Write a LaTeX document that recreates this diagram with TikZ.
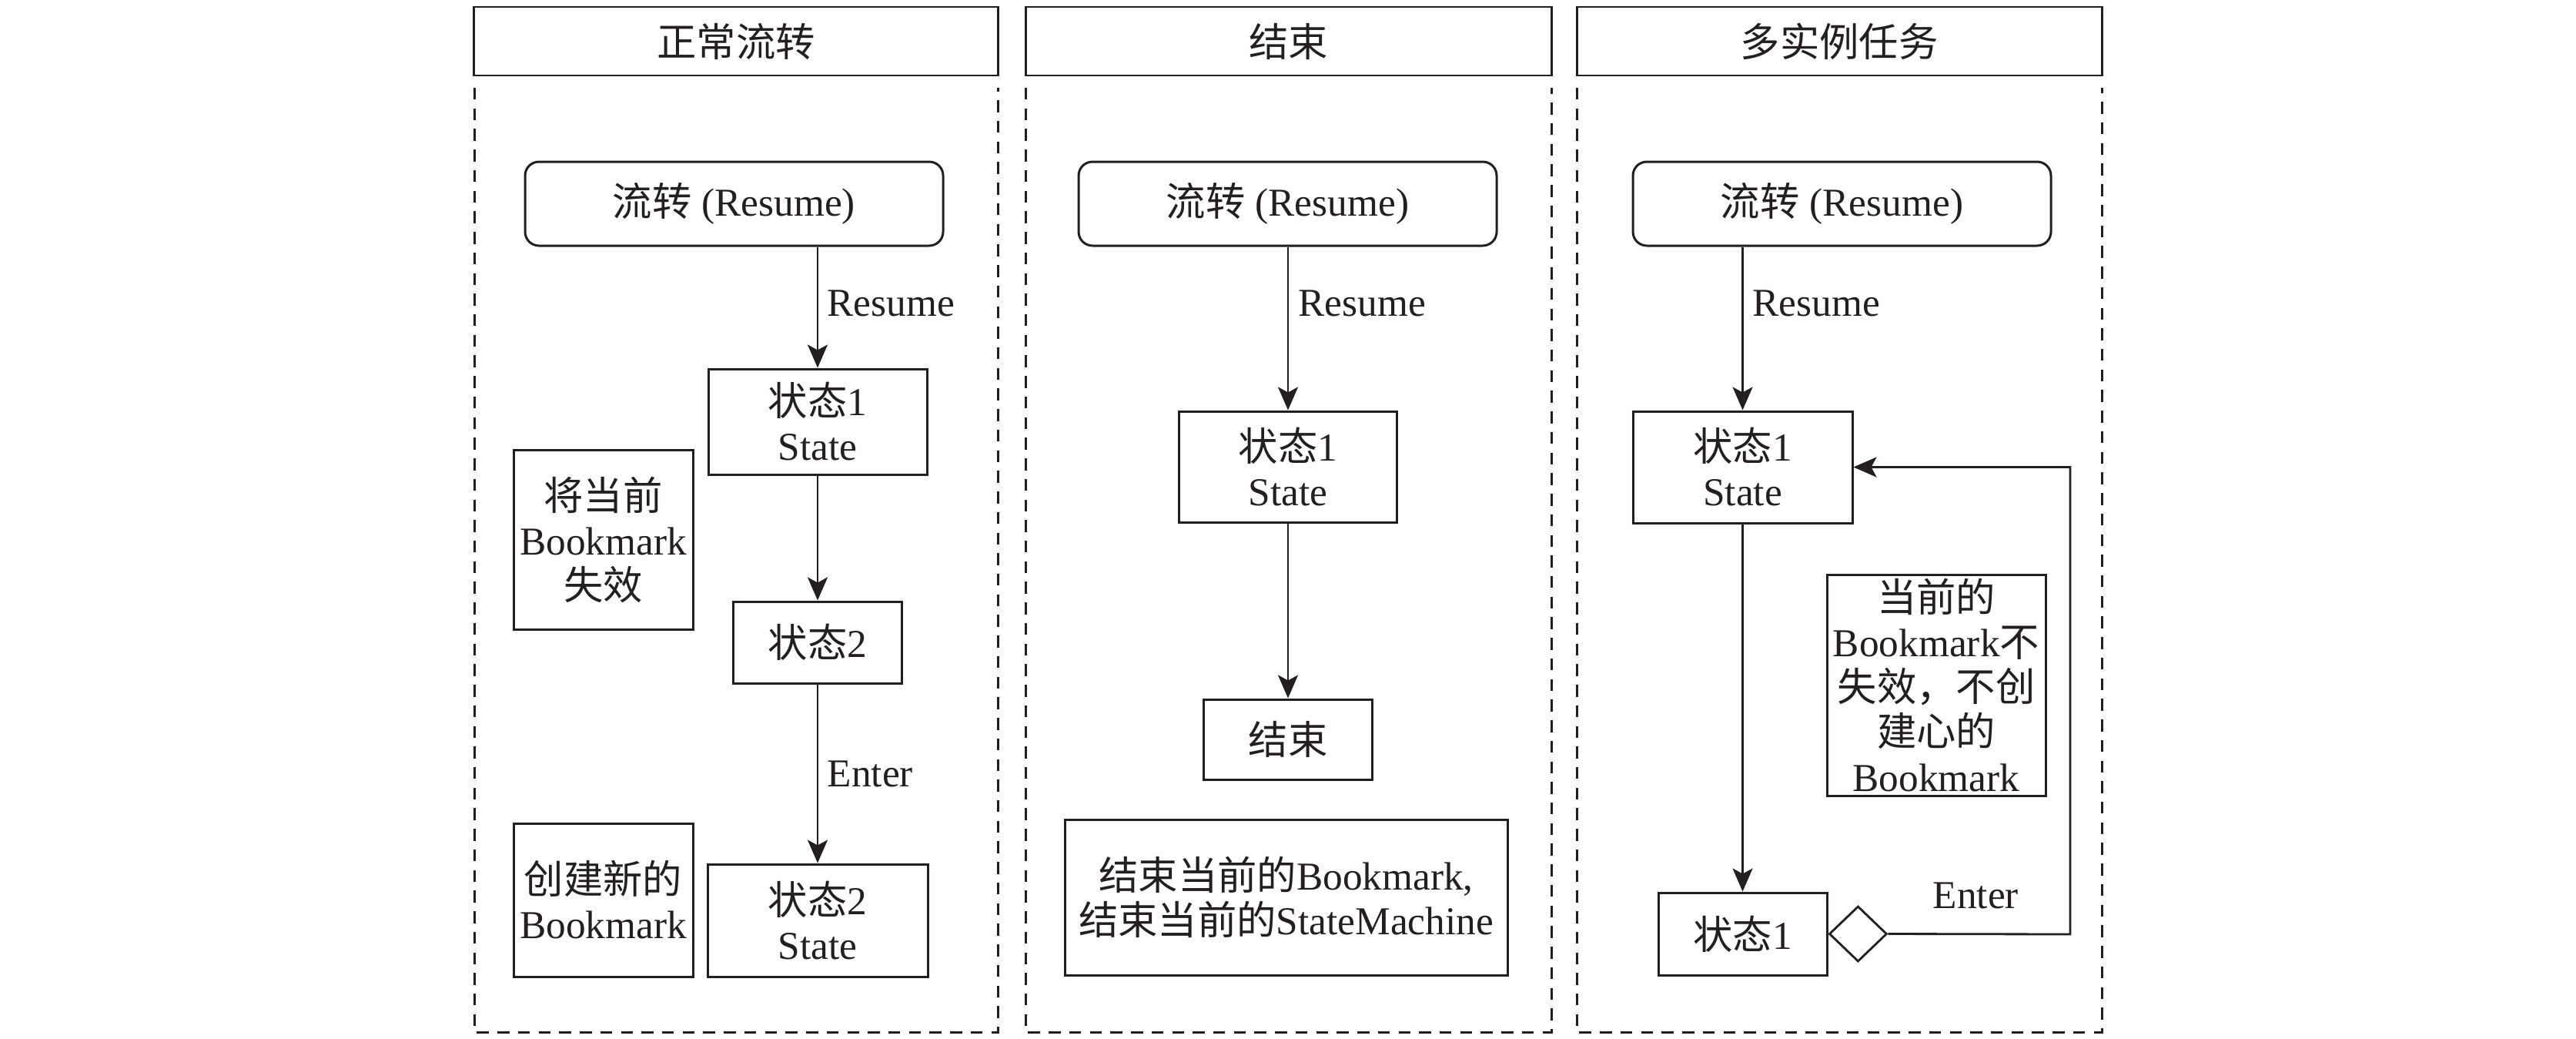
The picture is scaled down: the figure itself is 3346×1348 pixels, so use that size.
\documentclass[tikz,border=0pt]{standalone}
\usepackage{fontspec}
\setmainfont{Liberation Serif}
\newfontfamily\cjk{Noto Sans CJK SC}
\newcommand\zh[1]{{\cjk #1}}
\usetikzlibrary{arrows.meta,shapes.geometric}
\definecolor{ink}{HTML}{231F20}
\begin{document}
\begin{tikzpicture}[x=0.01cm,y=-0.01cm,
  every node/.style={font=\fontsize{14.6}{16.5}\selectfont, text=ink, inner sep=0pt},
  sz/.style 2 args={minimum width=#1*0.01cm, minimum height=#2*0.01cm},
  box/.style={draw=ink, line width=0.85pt, align=center},
  rbox/.style={box, rounded corners=0.18cm},
  lbl/.style={anchor=west},
  arr/.style={draw=ink, line width=0.8pt, -{Stealth[length=0.3cm,width=0.26cm,inset=0.07cm]}},
  dashline/.style={draw=ink, line width=0.85pt, dash pattern=on 4.4pt off 3.2pt},
  dia/.style={diamond, draw=ink, line width=0.8pt, fill=white, sz={75}{72}, inner sep=0pt, aspect=1},
]
\useasboundingbox (0,0) rectangle (3346,1348);

% ---------- panel frames ----------
\node[box, sz={681}{89}] (t1) at (956,53.5) {\zh{正常流转}};
\node[box, sz={683}{89}] (t2) at (1673.5,53.5) {\zh{结束}};
\node[box, sz={682}{89}] (t3) at (2389,53.5) {\zh{多实例任务}};
\draw[dashline] (616,114) -- (616,1340) -- (1296,1340) -- (1296,114);
\draw[dashline] (1332,114) -- (1332,1340) -- (2015,1340) -- (2015,114);
\draw[dashline] (2048,114) -- (2048,1340) -- (2730,1340) -- (2730,114);

% ---------- panel 1 ----------
\node[rbox, sz={543}{109}] (a0) at (953.5,264.5) {\zh{流转} (Resume)};
\node[box, sz={284}{137}] (a1) at (1062,547.5) {\zh{状态}1\\State};
\node[box, sz={233}{233}] (an1) at (783.5,700.5) {\zh{将当前}\\Bookmark\\\zh{失效}};
\node[box, sz={219}{106}] (a2) at (1062,834) {\zh{状态}2};
\node[box, sz={233}{199}] (an2) at (783.5,1168.5) {\zh{创建新的}\\Bookmark};
\node[box, sz={286}{146}] (a3) at (1062,1195) {\zh{状态}2\\State};
\draw[arr] (a1.north |- a0.south) -- (a1.north);
\draw[arr] (a1.south) -- (a2.north);
\draw[arr] (a2.south) -- (a3.north);
\node[lbl] (la1) at (1074,394) {Resume};
\node[lbl] (la2) at (1074,1005) {Enter};

% ---------- panel 2 ----------
\node[rbox, sz={543}{109}] (b0) at (1672.5,264.5) {\zh{流转} (Resume)};
\node[box, sz={283}{144}] (b1) at (1673,606) {\zh{状态}1\\State};
\node[box, sz={219}{104}] (b2) at (1673,960) {\zh{结束}};
\node[box, sz={575}{202}] (bn) at (1670.5,1165) {\zh{结束当前的}Bookmark,\\\zh{结束当前的}StateMachine};
\draw[arr] (b1.north |- b0.south) -- (b1.north);
\draw[arr] (b1.south) -- (b2.north);
\node[lbl] (lb1) at (1686,394) {Resume};

% ---------- panel 3 ----------
\node[rbox, sz={543}{109}] (c0) at (2392.5,264.5) {\zh{流转} (Resume)};
\node[box, sz={285}{145}] (c1) at (2263.5,606.5) {\zh{状态}1\\State};
\node[box, sz={219}{107}] (c2) at (2263.5,1212.5) {\zh{状态}1};
\node[box, sz={284}{287}] (cn) at (2515,889.5) {\zh{当前的}\\Bookmark\zh{不}\\\zh{失效，不创}\\\zh{建心的}\\Bookmark};
\node[dia, anchor=west] (cd) at (c2.east) {};
\coordinate (cr1) at (2689,1213);
\coordinate (cr2) at (2689,606.5);
\draw[arr] (c1.north |- c0.south) -- (c1.north);
\draw[arr] (c1.south) -- (c2.north);
\draw[arr] (cd.east) -- (cr1) -- (cr2) -- (c1.east);
\node[lbl] (lc1) at (2276,394) {Resume};
\node[lbl] (lc2) at (2510,1163) {Enter};
\end{tikzpicture}
\end{document}
